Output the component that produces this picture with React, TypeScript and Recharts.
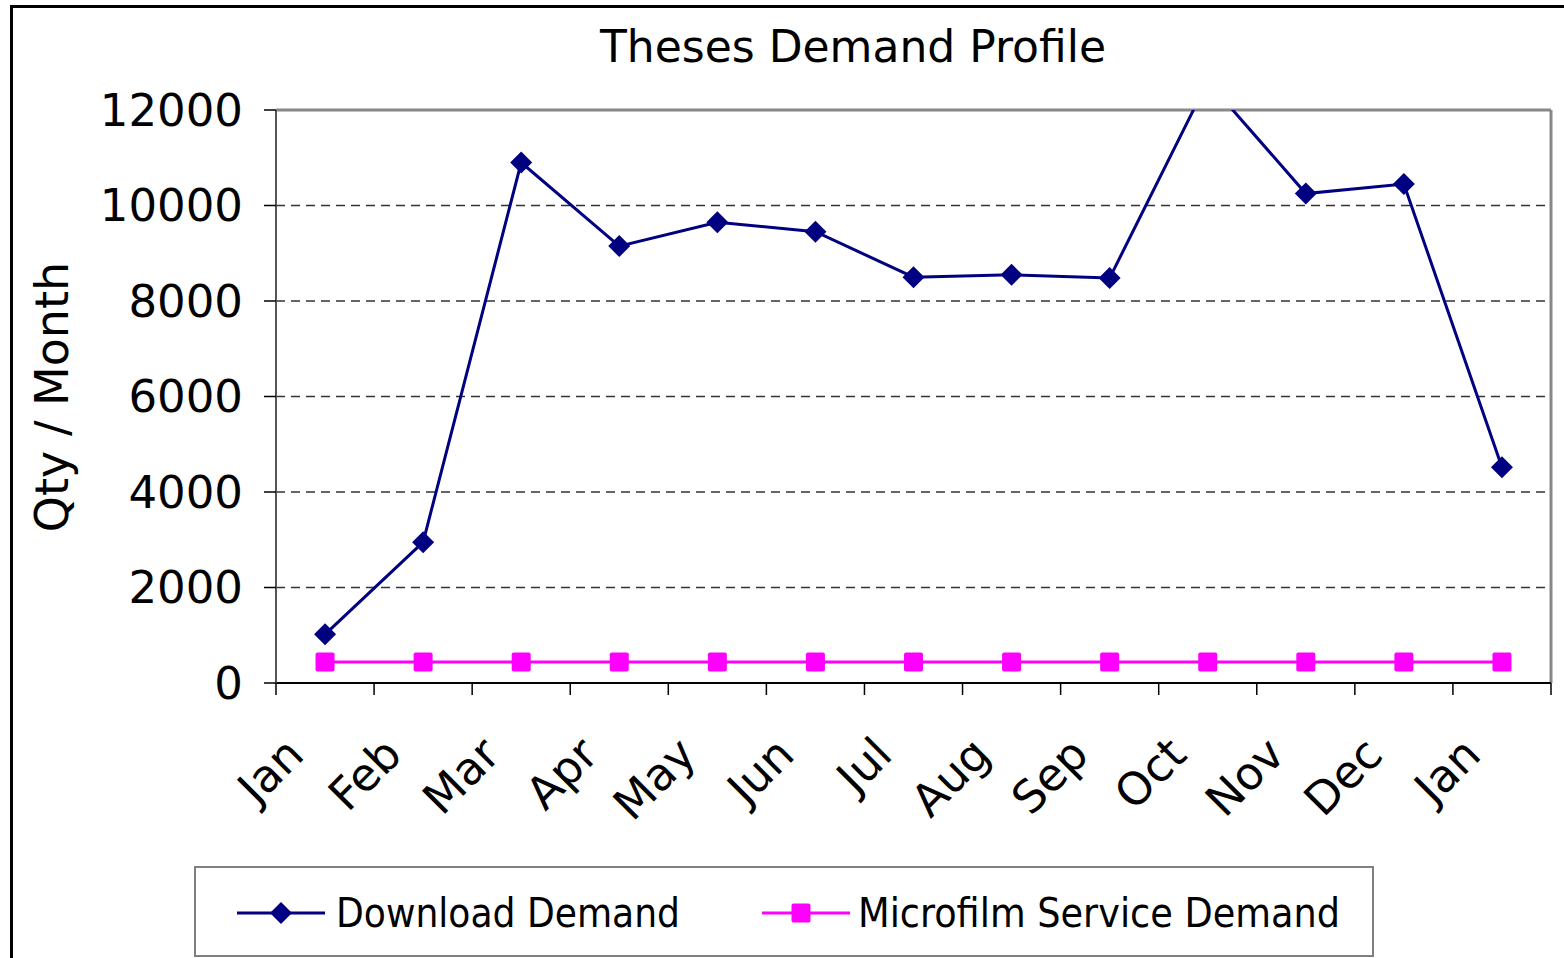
import { CartesianGrid, Line, LineChart, ReferenceLine, XAxis, YAxis } from "recharts";

const months = ["Jan", "Feb", "Mar", "Apr", "May", "Jun", "Jul", "Aug", "Sep", "Oct", "Nov", "Dec", "Jan"];
const downloadDemand = [1020, 2950, 10900, 9150, 9650, 9450, 8500, 8550, 8480, 12600, 10250, 10450, 4520];
const microfilmDemand = [440, 440, 440, 440, 440, 440, 440, 440, 440, 440, 440, 440, 440];
const yTicks = [0, 2000, 4000, 6000, 8000, 10000, 12000];
const xBounds = [0, 1, 2, 3, 4, 5, 6, 7, 8, 9, 10, 11, 12, 13];

// points sit in the middle of each month band
const rows = months.map((m, i) => ({
  x: i + 0.5,
  month: m,
  download: downloadDemand[i],
  microfilm: microfilmDemand[i],
}));

const NAVY = "#000080";
const MAGENTA = "#FF00FF";
const FONT = "'DejaVu Sans', Verdana, sans-serif";
const LEGEND_FONT = "'DejaVu Sans Condensed', 'DejaVu Sans', sans-serif";

function MonthTick(props: any) {
  const { x, y, payload } = props;
  const i = payload.value;
  if (i >= months.length) return <g />;
  return (
    <g transform={`translate(${x + 30},${y + 60})`}>
      <text textAnchor="end" transform="rotate(-45)" fontSize={45} fill="#000" fontFamily={FONT}>
        {months[i]}
      </text>
    </g>
  );
}

function Diamond(props: any) {
  const { cx, cy, index } = props;
  if (cx == null || cy == null) return <g key={`d-${index}`} />;
  const r = 11;
  return (
    <path
      key={`d-${index}`}
      d={`M${cx},${cy - r} L${cx + r},${cy} L${cx},${cy + r} L${cx - r},${cy} Z`}
      fill={NAVY}
    />
  );
}

function Square(props: any) {
  const { cx, cy, index } = props;
  if (cx == null || cy == null) return <g key={`s-${index}`} />;
  return <rect key={`s-${index}`} x={cx - 9.5} y={cy - 9.5} width={19} height={19} rx={2} fill={MAGENTA} />;
}

export default function App() {
  return (
    <div
      style={{
        position: "fixed",
        left: 0,
        top: 0,
        width: 1564,
        height: 958,
        overflow: "hidden",
        background: "#fff",
        fontFamily: FONT,
      }}
    >
      <div
        style={{
          position: "absolute",
          left: 10,
          top: 5,
          width: 3000,
          height: 3000,
          borderLeft: "3px solid #000",
          borderTop: "3px solid #000",
        }}
      />
      <div style={{ position: "absolute", left: 0, top: 0 }}>
        <LineChart width={1564} height={958} data={rows} margin={{ top: 110, right: 13, bottom: 155, left: 0 }}>
          <CartesianGrid vertical={false} stroke="#333" strokeWidth={1.5} strokeDasharray="9 6" />
          <XAxis
            dataKey="x"
            type="number"
            domain={[0, 13]}
            ticks={xBounds}
            interval={0}
            height={120}
            axisLine={{ stroke: "#000", strokeWidth: 2 }}
            tickLine={{ stroke: "#000", strokeWidth: 1.5 }}
            tickSize={12}
            tick={<MonthTick />}
          />
          <YAxis
            type="number"
            domain={[0, 12000]}
            ticks={yTicks}
            allowDataOverflow
            width={276}
            axisLine={{ stroke: "#555", strokeWidth: 2 }}
            tickLine={{ stroke: "#000", strokeWidth: 1.5 }}
            tickSize={12}
            tickMargin={21}
            tick={{ fontSize: 45, fill: "#000", fontFamily: FONT }}
          />
          <ReferenceLine y={12000} stroke="#888" strokeWidth={3} />
          <ReferenceLine x={13} stroke="#888" strokeWidth={3} />
          <Line
            dataKey="download"
            stroke={NAVY}
            strokeWidth={3}
            dot={<Diamond />}
            activeDot={false}
            isAnimationActive={false}
          />
          <Line
            dataKey="microfilm"
            stroke={MAGENTA}
            strokeWidth={3}
            dot={<Square />}
            activeDot={false}
            isAnimationActive={false}
          />
        </LineChart>
      </div>

      <div
        style={{
          position: "absolute",
          left: 553,
          top: 25,
          width: 600,
          textAlign: "center",
          fontSize: 44,
          lineHeight: "44px",
          whiteSpace: "nowrap",
        }}
      >
        Theses Demand Profile
      </div>

      <div
        style={{
          position: "absolute",
          left: 52,
          top: 397,
          transform: "translate(-50%, -50%) rotate(-90deg)",
          fontSize: 46,
          lineHeight: "46px",
          whiteSpace: "nowrap",
        }}
      >
        Qty / Month
      </div>

      <svg width={1564} height={958} style={{ position: "absolute", left: 0, top: 0, pointerEvents: "none" }}>
        <rect x={195} y={867} width={1178} height={89} fill="none" stroke="#808080" strokeWidth={2} />
        <line x1={237} y1={913} x2={325} y2={913} stroke={NAVY} strokeWidth={3} />
        <path d="M281,902 L292,913 L281,924 L270,913 Z" fill={NAVY} />
        <text
          x={336}
          y={927}
          fontSize={40}
          fontFamily={LEGEND_FONT}
          textLength={344}
          lengthAdjust="spacingAndGlyphs"
          fill="#000"
        >
          Download Demand
        </text>
        <line x1={762} y1={913} x2={850} y2={913} stroke={MAGENTA} strokeWidth={3} />
        <rect x={791.5} y={903.5} width={19} height={19} rx={2} fill={MAGENTA} />
        <text
          x={858}
          y={927}
          fontSize={40}
          fontFamily={LEGEND_FONT}
          textLength={482}
          lengthAdjust="spacingAndGlyphs"
          fill="#000"
        >
          Microfilm Service Demand
        </text>
      </svg>
    </div>
  );
}
